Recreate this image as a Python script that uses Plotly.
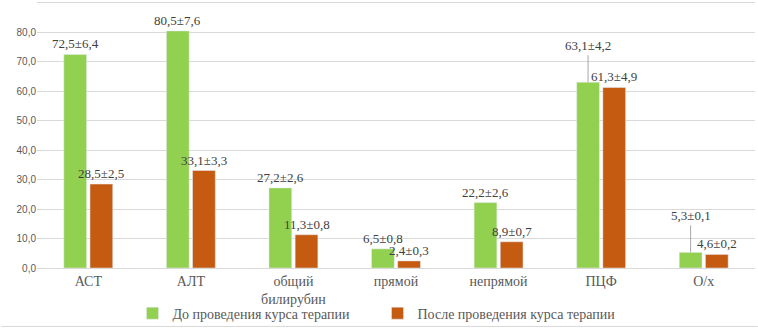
import plotly.graph_objects as go

categories = ["АСТ", "АЛТ", "общий<br>билирубин", "прямой", "непрямой", "ПЦФ", "О/х"]
before_vals = [72.5, 80.5, 27.2, 6.5, 22.2, 63.1, 5.3]
before_err = [6.4, 7.6, 2.6, 0.8, 2.6, 4.2, 0.1]
after_vals = [28.5, 33.1, 11.3, 2.4, 8.9, 61.3, 4.6]
after_err = [2.5, 3.3, 0.8, 0.3, 0.7, 4.9, 0.2]
series_names = ["До проведения курса терапии", "После проведения курса терапии"]
y_ticks = [0, 10, 20, 30, 40, 50, 60, 70, 80, 90]
# categories whose "before" label is lifted with a leader line
leader_before = ["ПЦФ", "О/х"]

def fmt(v):
    return f"{v:.1f}".replace(".", ",")

before_text = [f"{fmt(v)}±{fmt(e)}" for v, e in zip(before_vals, before_err)]
after_text = [f"{fmt(v)}±{fmt(e)}" for v, e in zip(after_vals, after_err)]

serif = "Liberation Serif, Times New Roman, serif"
label_font = dict(family=serif, size=13, color="#404040")

BARGAP = 0.49
BARGROUPGAP = 0.13
slot = (1 - BARGAP) / 2
offs = slot / 2  # center offset of each bar from category center

fig = go.Figure()
fig.add_trace(go.Bar(x=categories, y=before_vals, name=series_names[0], marker_color="#92D050"))
fig.add_trace(go.Bar(x=categories, y=after_vals, name=series_names[1], marker_color="#C55A11"))

n = len(categories)
for i in range(n):
    if categories[i] in leader_before:
        fig.add_annotation(
            x=i - offs, y=before_vals[i], xref="x", yref="y",
            text=before_text[i], showarrow=True, arrowhead=0, arrowwidth=1,
            arrowcolor="#A6A6A6", ax=0, ay=-27, yanchor="bottom",
            font=label_font,
        )
    else:
        fig.add_annotation(
            x=i - offs, y=before_vals[i], xref="x", yref="y",
            text=before_text[i], showarrow=False, yanchor="bottom", yshift=1,
            font=label_font,
        )
    fig.add_annotation(
        x=i + offs, y=after_vals[i], xref="x", yref="y",
        text=after_text[i], showarrow=False, yanchor="bottom", yshift=1,
        font=label_font,
    )

fig.update_layout(
    width=758, height=328,
    margin=dict(l=37, r=3, t=0, b=60, autoexpand=False),
    paper_bgcolor="white", plot_bgcolor="white",
    separators=", ",
    barmode="group", bargap=BARGAP, bargroupgap=BARGROUPGAP,
    showlegend=True,
    legend=dict(orientation="h", x=0.133, xanchor="left", y=-0.17, yanchor="middle",
                font=dict(family=serif, size=14, color="#595959"),
                bgcolor="rgba(0,0,0,0)", entrywidth=200, entrywidthmode="pixels",
                tracegroupgap=0),
    xaxis=dict(showline=True, linecolor="#D9D9D9", ticks="", automargin=False,
               range=[-0.5, n - 0.5],
               tickfont=dict(family=serif, size=14, color="#595959")),
    yaxis=dict(range=[0, 91], tickvals=y_ticks, tickformat=".1f", automargin=False,
               showgrid=True, gridcolor="#D9D9D9", zeroline=False,
               tickfont=dict(family="Liberation Sans, Arial, sans-serif", size=10, color="#595959")),
    shapes=[dict(type="line", xref="paper", yref="paper", x0=-0.05, x1=1.004, y0=-0.218, y1=-0.218,
                 line=dict(color="#D9D9D9", width=1))],
)

fig.write_html("out.html", config={"displayModeBar": False},
               post_script="document.body.style.margin='0';")
